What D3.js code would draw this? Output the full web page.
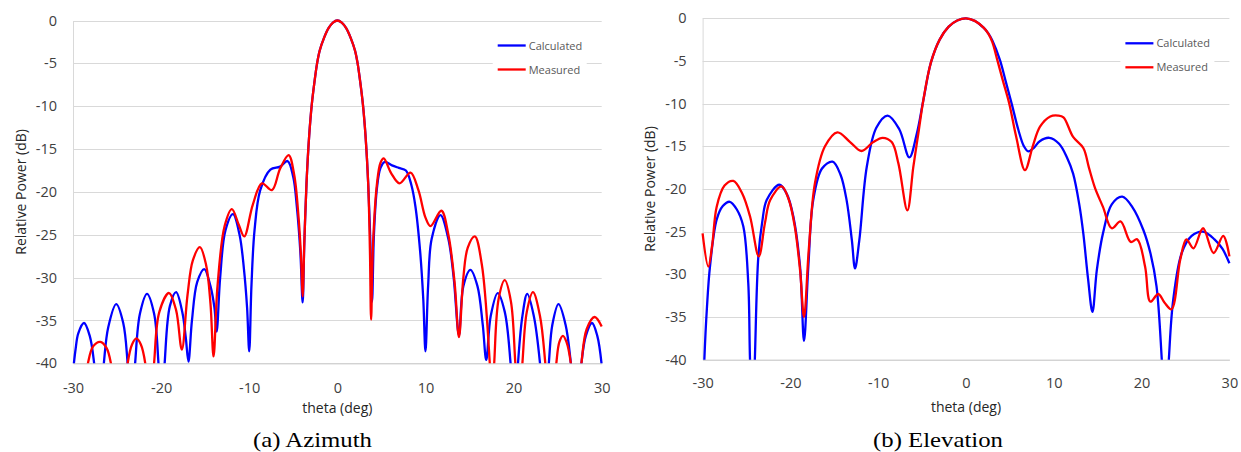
<!DOCTYPE html>
<html>
<head>
<meta charset="utf-8">
<script src="https://cdn.jsdelivr.net/npm/d3@7"></script>
<style>
    body { margin: 0; background: #fff; }
    svg { display: block; }
    .tick text { font-family: "Open Sans", sans-serif; font-size: 14.5px; fill: #404040; }
    .axis-title { font-family: "Open Sans", sans-serif; font-size: 14px; fill: #262626; }
    .legend-text { font-family: "Open Sans", sans-serif; font-size: 11px; fill: #595959; }
    .caption { font-family: "Liberation Serif", serif; font-size: 22px; fill: #000; }
</style>
</head>
<body>
<svg id="chart" width="1241" height="452"></svg>
<script>
// axis ticks and legend
const thetaTicks = [-30, -20, -10, 0, 10, 20, 30];
const dbTicks = [0, -5, -10, -15, -20, -25, -30, -35, -40];
const seriesNames = ["Calculated", "Measured"];
const seriesColors = ["#0000ff", "#ff0000"];

// main lobe (nearly the same in both azimuth curves)
const azMainLobe = [
    [-3.5, -19.0], [-3.2, -13.5], [-2.9, -9.8], [-2.6, -7.2], [-2.3, -5.0], [-2.0, -3.5],
    [-1.5, -2.0], [-1.0, -0.9], [-0.5, -0.25], [0, 0], [0.5, -0.25], [1.0, -0.9],
    [1.5, -2.0], [2.0, -3.5], [2.3, -5.0], [2.6, -7.2], [2.9, -9.8], [3.2, -13.5], [3.5, -19.0]
];

// (a) azimuth, theta (deg) / relative power (dB)
const azCalculated = [
    [-30.0, -41.0], [-29.7, -38.3], [-29.4, -36.5], [-28.75, -35.3], [-28.1, -36.8], [-27.6, -40.0],
    [-27.05, -47], [-26.5, -40.0], [-26.0, -35.8], [-25.1, -33.1], [-24.3, -35.3], [-23.8, -40.0],
    [-23.4, -47], [-22.95, -40.0], [-22.4, -34.2], [-21.6, -31.9], [-20.8, -34.2], [-20.3, -40.0],
    [-19.95, -47], [-19.6, -40.0], [-19.0, -33.3], [-18.3, -31.7], [-17.6, -34.0], [-17.2, -37.0],
    [-16.9, -39.8], [-16.5, -35.0], [-15.9, -30.5], [-15.1, -29.0], [-14.4, -31.0], [-13.95, -33.5],
    [-13.7, -36.3], [-13.3, -30.0], [-12.7, -24.5], [-11.85, -22.6], [-11.1, -25.0], [-10.6, -29.0],
    [-10.25, -33.4], [-10.0, -38.6], [-9.75, -31.0], [-9.4, -24.5], [-8.75, -19.8], [-7.6, -17.4],
    [-6.5, -17.05], [-5.65, -16.4], [-5.0, -18.3], [-4.6, -21.7], [-4.2, -27.0], [-3.94, -32.9],
    [-3.75, -26.0],
    ...azMainLobe,
    [3.75, -26.0], [3.94, -32.8], [4.15, -25.0], [4.5, -19.5], [4.9, -17.2], [5.38, -16.5],
    [6.2, -16.9], [6.97, -17.2], [7.78, -17.5], [8.4, -19.2], [8.86, -21.7], [9.4, -27.0],
    [9.75, -32.5], [10.0, -38.6], [10.3, -31.0], [10.7, -25.5], [11.7, -22.7], [12.6, -25.5],
    [13.2, -30.0], [13.8, -36.7], [14.3, -31.0], [15.1, -29.1], [15.9, -31.0], [16.5, -35.5],
    [16.9, -39.6], [17.4, -34.5], [18.2, -31.8], [19.0, -34.0], [19.66, -40.0], [20.1, -47],
    [20.5, -40.0], [21.0, -34.5], [21.55, -31.9], [22.3, -34.5], [23.0, -40.0], [23.5, -47],
    [24.0, -40.0], [24.4, -35.5], [25.1, -33.1], [25.9, -35.5], [26.5, -40.0], [27.1, -47],
    [27.7, -40.0], [28.2, -36.8], [28.9, -35.3], [29.5, -36.8], [30.0, -40.2]
];

const azMeasured = [
    [-30.0, -55], [-28.3, -40.0], [-27.7, -38.0], [-26.9, -37.5], [-26.2, -38.2], [-25.7, -40.0],
    [-24.75, -50], [-23.8, -40.0], [-23.3, -37.8], [-22.8, -37.1], [-22.3, -37.8], [-21.8, -40.0],
    [-21.3, -47], [-20.8, -40.0], [-20.2, -34.0], [-19.1, -31.8], [-18.3, -33.8], [-17.65, -38.4],
    [-17.0, -32.0], [-16.4, -28.0], [-15.6, -26.45], [-14.9, -28.5], [-14.4, -33.0], [-14.05, -39.2],
    [-13.6, -31.0], [-12.8, -24.0], [-11.97, -22.0], [-11.2, -23.8], [-10.57, -25.2], [-9.6, -21.5],
    [-8.56, -19.0], [-7.43, -19.8], [-6.5, -17.3], [-5.53, -15.7], [-4.9, -18.0], [-4.4, -23.0],
    [-4.1, -28.0], [-3.94, -32.2], [-3.75, -26.0],
    ...azMainLobe,
    [3.7, -27.0], [3.83, -34.9], [4.05, -26.0], [4.5, -19.0], [4.9, -16.6], [5.26, -16.1],
    [6.1, -17.8], [7.05, -19.0], [8.3, -17.75], [9.2, -19.8], [10.0, -23.0], [10.57, -24.0],
    [11.8, -22.2], [12.6, -25.0], [13.3, -30.5], [13.8, -36.95], [14.3, -30.0], [14.8, -26.5],
    [15.6, -25.2], [16.4, -28.5], [17.3, -40.0], [17.55, -45], [17.8, -40.0], [18.3, -32.5],
    [19.0, -30.3], [19.7, -32.8], [20.2, -40.0], [20.6, -46], [21.0, -40.0], [21.5, -34.0],
    [22.2, -31.7], [23.0, -34.5], [23.6, -40.0], [24.2, -48], [24.85, -40.0], [25.2, -37.5],
    [25.6, -36.8], [26.0, -37.5], [26.5, -40.0], [27.1, -48], [27.7, -40.0], [28.3, -36.0],
    [29.2, -34.6], [30.0, -35.7]
];

// (b) elevation
const elCalculated = [
    [-30.0, -47], [-29.8, -40.0], [-29.5, -33.8], [-29.16, -29.1], [-28.4, -23.6], [-27.7, -22.0],
    [-26.9, -21.5], [-26.1, -22.4], [-25.36, -24.4], [-24.8, -31.0], [-24.6, -40.0], [-24.3, -48],
    [-24.05, -40.0], [-23.65, -27.9], [-23.2, -23.8], [-22.7, -21.3], [-21.26, -19.5], [-20.4, -20.6],
    [-19.67, -23.2], [-18.9, -29.1], [-18.45, -37.8], [-17.96, -29.1], [-17.4, -21.3], [-16.4, -17.6],
    [-15.2, -16.8], [-14.3, -18.3], [-13.6, -21.3], [-13.0, -26.0], [-12.64, -29.3], [-12.15, -26.0],
    [-11.3, -17.4], [-10.2, -12.8], [-8.92, -11.4], [-7.6, -13.0], [-6.45, -16.3], [-5.6, -13.5],
    [-4.86, -9.6], [-4.0, -5.2], [-3.0, -2.5], [-2.0, -1.0], [-1.0, -0.25], [0.0, 0.0],
    [1.0, -0.3], [2.0, -1.1], [2.54, -1.76], [3.0, -2.6], [3.87, -4.9], [4.5, -7.3],
    [5.2, -10.0], [6.0, -13.2], [6.6, -15.0], [7.1, -15.6], [7.7, -15.2], [8.4, -14.4],
    [9.49, -14.0], [10.6, -14.7], [11.5, -16.3], [12.2, -18.2], [12.9, -21.8], [13.36, -25.2],
    [13.9, -30.5], [14.4, -34.4], [14.9, -29.5], [15.6, -25.2], [16.6, -21.8], [17.8, -20.9],
    [19.0, -22.2], [20.2, -24.8], [21.0, -27.5], [21.7, -31.4], [22.3, -40.0], [22.7, -48],
    [23.1, -40.0], [23.6, -33.0], [24.57, -27.5], [25.7, -25.5], [27.0, -25.0], [28.3, -25.9],
    [29.2, -27.0], [30.0, -28.7]
];

const elMeasured = [
    [-30.0, -25.2], [-29.35, -29.1], [-28.9, -26.5], [-28.4, -22.1], [-27.5, -19.6], [-26.5, -19.06],
    [-25.5, -20.5], [-24.6, -23.2], [-23.6, -27.9], [-22.9, -24.0], [-22.3, -21.3], [-21.0, -19.7],
    [-20.2, -21.2], [-19.5, -24.4], [-18.9, -29.5], [-18.45, -35.0], [-17.9, -27.0], [-17.2, -19.3],
    [-16.06, -15.0], [-14.65, -13.36], [-13.2, -14.5], [-11.9, -15.55], [-10.56, -14.5], [-9.5, -14.0],
    [-8.46, -14.5], [-7.7, -17.0], [-6.68, -22.5], [-6.0, -17.4], [-5.43, -13.5], [-4.86, -9.6],
    [-4.0, -5.2], [-3.0, -2.5], [-2.0, -1.0], [-1.0, -0.25], [0, 0], [1.0, -0.3],
    [2.0, -1.1], [2.54, -1.8], [3.0, -2.8], [3.57, -4.9], [4.2, -7.3], [4.93, -10.0],
    [5.7, -13.8], [6.72, -17.8], [7.6, -15.0], [8.43, -12.7], [9.6, -11.5], [10.5, -11.4],
    [11.1, -11.6], [12.2, -13.9], [13.36, -15.2], [14.0, -17.5], [14.7, -19.9], [15.6, -22.1],
    [16.6, -24.6], [17.6, -23.8], [18.76, -26.2], [19.5, -25.9], [20.4, -29.1], [21.0, -33.2],
    [21.9, -32.3], [22.6, -33.3], [23.4, -34.1], [24.4, -28.3], [25.1, -25.9], [25.9, -26.95],
    [27.0, -24.6], [28.2, -27.5], [29.3, -25.5], [30.0, -27.9]
];


class PatternPanel {
    /**
     * One sub-figure: plot box in page pixels plus caption
     */
    constructor(svg, box, caption) {
        this.svg = svg;
        this.box = box;
        this.caption = caption;
        this.x = d3.scaleLinear().domain([-30, 30]).range([box.left, box.right]);
        this.y = d3.scaleLinear().domain([-40, 0]).range([box.bottom, box.top]);
    }

    draw(calculated, measured) {
        let that = this;
        let b = this.box;
        let g = this.svg.append("g");
        // plain hyphen for negatives, like the source
        let fmt = d => String(d);

        // horizontal gridlines
        g.selectAll("line.grid")
            .data(dbTicks.filter(d => d > -40))
            .enter().append("line")
            .attr("x1", b.left).attr("x2", b.right)
            .attr("y1", d => Math.round(that.y(d)) + 0.5)
            .attr("y2", d => Math.round(that.y(d)) + 0.5)
            .attr("stroke", "#d9d9d9").attr("stroke-width", 1);

        // value axis (left)
        let yAxis = g.append("g")
            .attr("transform", `translate(${b.left},0)`)
            .call(d3.axisLeft(this.y).tickValues(dbTicks).tickFormat(fmt).tickSize(0).tickPadding(16));
        yAxis.select(".domain").attr("stroke", "#d9d9d9");

        // category axis (bottom)
        let xAxis = g.append("g")
            .attr("transform", `translate(0,${b.bottom})`)
            .call(d3.axisBottom(this.x).tickValues(thetaTicks).tickFormat(fmt).tickSize(0).tickPadding(b.xPad));
        xAxis.select(".domain").attr("stroke", "#bfbfbf");

        g.append("text").attr("class", "axis-title")
            .attr("x", (b.left + b.right) / 2).attr("y", b.xTitleY)
            .attr("text-anchor", "middle")
            .text("theta (deg)");

        g.append("text").attr("class", "axis-title")
            .attr("transform", `translate(${b.yTitleX},${(b.top + b.bottom) / 2}) rotate(-90)`)
            .attr("text-anchor", "middle")
            .text("Relative Power (dB)");

        // curves, clipped at the -40 dB floor
        let clipId = "clip-" + b.id;
        this.svg.append("clipPath").attr("id", clipId)
            .append("rect")
            .attr("x", b.left - 3).attr("y", b.top - 10)
            .attr("width", b.right - b.left + 6)
            .attr("height", b.bottom - b.top + 10);

        let line = d3.line()
            .x(d => that.x(d[0]))
            .y(d => that.y(d[1]))
            .curve(d3.curveCatmullRom.alpha(0.5));

        g.append("g").attr("clip-path", `url(#${clipId})`)
            .selectAll("path")
            .data([calculated, measured])
            .enter().append("path")
            .attr("d", line)
            .attr("fill", "none")
            .attr("stroke", (d, i) => seriesColors[i])
            .attr("stroke-width", 2.3)
            .attr("stroke-linejoin", "round");

        // legend
        let lx = b.right - 104;
        let ly = b.top + 25;
        g.append("rect")
            .attr("x", lx - 5).attr("y", ly - 13)
            .attr("width", 94).attr("height", 50)
            .attr("fill", "#fff");

        let items = g.selectAll("g.legend")
            .data(seriesNames)
            .enter().append("g")
            .attr("transform", (d, i) => `translate(${lx},${ly + i * 24})`);
        items.append("line")
            .attr("x1", 0).attr("x2", 28)
            .attr("stroke", (d, i) => seriesColors[i])
            .attr("stroke-width", 2.3);
        items.append("text").attr("class", "legend-text")
            .attr("x", 31).attr("y", 4)
            .text(d => d);

        // sub-figure caption
        g.append("text").attr("class", "caption")
            .attr("x", b.captionX).attr("y", 447)
            .attr("text-anchor", "middle")
            .attr("textLength", b.captionWidth)
            .attr("lengthAdjust", "spacingAndGlyphs")
            .text(this.caption);
    }
}


let svg = d3.select("#chart");
svg.append("rect").attr("width", 1241).attr("height", 452).attr("fill", "#fff");

let azimuth = new PatternPanel(svg, {
    id: "az", left: 73, right: 601.7, top: 20.5, bottom: 363.3,
    xPad: 19, xTitleY: 413, yTitleX: 25.5, captionX: 312.5, captionWidth: 119
}, "(a) Azimuth");
azimuth.draw(azCalculated, azMeasured);

let elevation = new PatternPanel(svg, {
    id: "el", left: 702.6, right: 1229.4, top: 18.3, bottom: 359.7,
    xPad: 18.5, xTitleY: 412, yTitleX: 655.3, captionX: 938, captionWidth: 130
}, "(b) Elevation");
elevation.draw(elCalculated, elMeasured);
</script>
</body>
</html>
